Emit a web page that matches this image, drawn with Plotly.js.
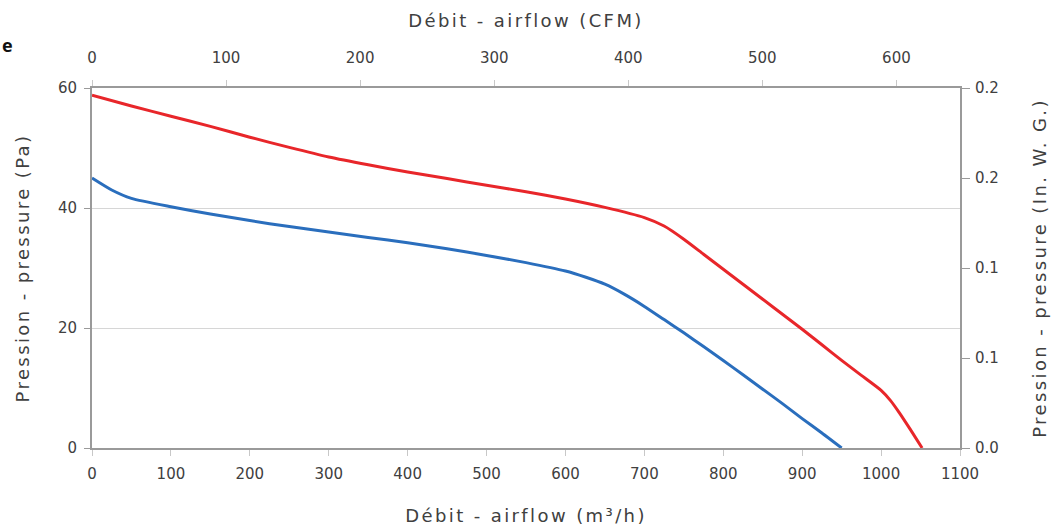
<!DOCTYPE html>
<html>
<head>
<meta charset="utf-8">
<script src="https://cdn.plot.ly/plotly-3.0.1.min.js"></script>
<style>
html,body{margin:0;padding:0;background:#fff;}
#chart{width:1063px;height:529px;}
.xtitle, .x2title, .ytitle, .y2title {letter-spacing: 2.4px;}
</style>
</head>
<body>
<div id="chart"></div>
<script>
// Airflow (m³/h) and pressure (Pa) for the two curves
const redFlow = [0, 50, 100, 150, 200, 250, 300, 350, 400, 450, 500, 550, 600, 650, 700, 725, 750, 775, 800, 825, 850, 875, 900, 925, 950, 975, 1000, 1012, 1023, 1037, 1052];
const redPressure = [58.8, 57.0, 55.3, 53.6, 51.8, 50.1, 48.5, 47.2, 46.0, 44.9, 43.8, 42.7, 41.5, 40.1, 38.4, 37.0, 34.8, 32.3, 29.8, 27.3, 24.8, 22.3, 19.8, 17.2, 14.6, 12.1, 9.6, 7.9, 5.9, 3.1, 0];
const blueFlow = [0, 25, 50, 100, 150, 200, 250, 300, 350, 400, 450, 500, 550, 600, 625, 650, 675, 700, 725, 750, 775, 800, 825, 850, 875, 900, 925, 950];
const bluePressure = [45.0, 43.0, 41.6, 40.2, 39.0, 37.9, 36.9, 36.0, 35.1, 34.2, 33.2, 32.1, 30.9, 29.5, 28.5, 27.3, 25.6, 23.6, 21.4, 19.2, 16.9, 14.6, 12.2, 9.8, 7.4, 4.9, 2.5, 0];

// Axis ticks
const flowTicks = [0, 100, 200, 300, 400, 500, 600, 700, 800, 900, 1000, 1100];
const cfmTicks = [0, 100, 200, 300, 400, 500, 600];
const paTicks = [0, 20, 40, 60];
const inwgTickPa = [0, 15, 30, 45, 60];
const inwgTickText = ["0.0", "0.1", "0.1", "0.2", "0.2"];

const M3H_PER_CFM = 1.699;
const PA_PER_INWG = 249.09;
const flowMax = 1100, paMax = 60;

const fam = "DejaVu Sans, Verdana, sans-serif";
const font = {family: fam, size: 15, color: "#404040"};
const titleFont = {family: fam, size: 18, color: "#404040"};
const axisLine = "#9a9a9a";

const traces = [
  {x: redFlow, y: redPressure, type: "scatter", mode: "lines", line: {color: "#e8262a", width: 3, shape: "spline", smoothing: 0.6}, showlegend: false, hoverinfo: "skip"},
  {x: blueFlow, y: bluePressure, type: "scatter", mode: "lines", line: {color: "#2a6ebd", width: 3, shape: "spline", smoothing: 0.6}, showlegend: false, hoverinfo: "skip"},
  {x: [0], y: [0], xaxis: "x2", yaxis: "y2", type: "scatter", mode: "markers", marker: {opacity: 0}, showlegend: false, hoverinfo: "skip"}
];

const layout = {
  width: 1063, height: 529,
  margin: {l: 92, r: 103, t: 88, b: 81},
  paper_bgcolor: "#fff", plot_bgcolor: "#fff",
  font: font,
  xaxis: {
    range: [0, flowMax], tickvals: flowTicks, ticktext: flowTicks.map(String),
    showgrid: false, zeroline: false, showline: true, linecolor: axisLine, linewidth: 2,
    ticks: "outside", ticklen: 6, tickcolor: "#c8c8c8", tickwidth: 1, ticklabelstandoff: 5,
    tickfont: font,
    title: {text: "Débit - airflow (m³/h)", font: titleFont, standoff: 27}
  },
  xaxis2: {
    overlaying: "x", side: "top", anchor: "y2",
    range: [0, flowMax / M3H_PER_CFM], tickvals: cfmTicks, ticktext: cfmTicks.map(String),
    showgrid: false, zeroline: false, showline: true, linecolor: axisLine, linewidth: 2,
    ticks: "outside", ticklen: 6, tickcolor: "#c8c8c8", tickwidth: 1, ticklabelstandoff: 11,
    tickfont: font,
    title: {text: "Débit - airflow (CFM)", font: titleFont, standoff: 17}
  },
  yaxis: {
    range: [0, paMax], tickvals: paTicks, ticktext: paTicks.map(String),
    showgrid: true, gridcolor: "#d6d6d6", gridwidth: 1, zeroline: false,
    showline: true, linecolor: axisLine, linewidth: 2,
    ticks: "outside", ticklen: 6, tickcolor: axisLine, tickwidth: 1, ticklabelstandoff: 4,
    tickfont: font,
    title: {text: "Pression - pressure (Pa)", font: titleFont, standoff: 24}
  },
  yaxis2: {
    overlaying: "y", side: "right", anchor: "x2",
    range: [0, paMax / PA_PER_INWG], tickvals: inwgTickPa.map(v => v / PA_PER_INWG), ticktext: inwgTickText,
    showgrid: false, zeroline: false, showline: true, linecolor: axisLine, linewidth: 2,
    ticks: "outside", ticklen: 8, tickcolor: axisLine, tickwidth: 1, ticklabelstandoff: 2,
    tickfont: font,
    title: {text: "Pression - pressure (In. W. G.)", font: titleFont, standoff: 36}
  },
  annotations: [
    {text: "<b>e</b>", xref: "paper", yref: "paper", x: -92/868, y: 1 + 43/360, xanchor: "left", yanchor: "middle", showarrow: false,
     font: {family: "Open Sans, sans-serif", size: 18, color: "#111"}}
  ]
};

Plotly.newPlot("chart", traces, layout, {staticPlot: true, displayModeBar: false});
</script>
</body>
</html>
